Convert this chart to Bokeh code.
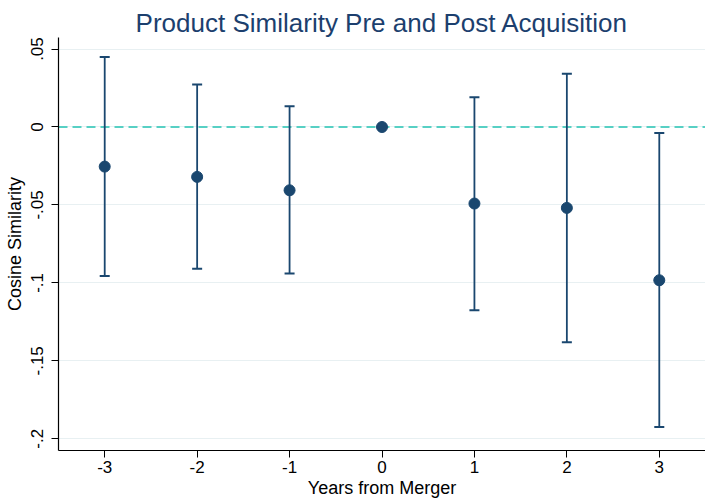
from bokeh.plotting import figure
from bokeh.models import Range1d, Span, FixedTicker, ColumnDataSource
from bokeh.embed import file_html
from bokeh.resources import INLINE

years = [-3, -2, -1, 0, 1, 2, 3]
estimate = [-0.0254, -0.0320, -0.0406, 0.0, -0.0491, -0.0519, -0.0983]
ci_upper = [0.0449, 0.0272, 0.0133, 0.0, 0.0190, 0.0342, -0.0038]
ci_lower = [-0.0955, -0.0910, -0.0940, 0.0, -0.1175, -0.1381, -0.1925]

y_ticks = [-0.2, -0.15, -0.1, -0.05, 0.0, 0.05]
y_tick_labels = ["-.2", "-.15", "-.1", "-.05", "0", ".05"]
x_ticks = [-3, -2, -1, 0, 1, 2, 3]
x_tick_labels = ["-3", "-2", "-1", "0", "1", "2", "3"]

NAVY = "#1a476f"
FONT = "Liberation Sans"

src = ColumnDataSource(dict(x=years, y=estimate, lo=ci_lower, hi=ci_upper))

p = figure(width=705, height=500, output_backend="svg", toolbar_location=None,
           x_range=Range1d(-3.5, 3.5), y_range=Range1d(-0.2075, 0.0574),
           min_border_left=58, min_border_right=0, min_border_top=37,
           min_border_bottom=50)
p.outline_line_color = None
p.background_fill_color = "white"
p.border_fill_color = "white"

p.title.text = "Product Similarity Pre and Post Acquisition"
p.title.align = "center"
p.title.text_font = FONT
p.title.text_font_style = "normal"
p.title.text_font_size = "26px"
p.title.text_color = "#1c3f6e"
p.title.standoff = 0
p.title.offset = 0

p.xgrid.grid_line_color = None
p.ygrid.grid_line_color = "#e8f0f2"
p.ygrid.grid_line_width = 1.2
p.ygrid.ticker = FixedTicker(ticks=y_ticks)

zero = Span(location=0, dimension="width", line_color="#57d0c4",
            line_width=1.8, line_dash="9 5", level="underlay")
p.add_layout(zero)

p.segment(x0="x", y0="lo", x1="x", y1="hi", source=src, line_color=NAVY, line_width=1.8)
p.dash(x="x", y="hi", source=src, size=10, line_color=NAVY, line_width=2)
p.dash(x="x", y="lo", source=src, size=10, line_color=NAVY, line_width=2)
p.scatter(x="x", y="y", source=src, size=11, fill_color=NAVY, line_color=NAVY)

p.xaxis.ticker = FixedTicker(ticks=x_ticks)
p.xaxis.major_label_overrides = {t: l for t, l in zip(x_ticks, x_tick_labels)}
p.yaxis.ticker = FixedTicker(ticks=y_ticks)
p.yaxis.major_label_overrides = {t: l for t, l in zip(y_ticks, y_tick_labels)}
p.yaxis.major_label_orientation = "vertical"

p.xaxis.axis_label = "Years from Merger"
p.yaxis.axis_label = "Cosine Similarity"

for ax in (p.xaxis, p.yaxis):
    ax.axis_line_color = "black"
    ax.axis_line_width = 1.2
    ax.major_tick_line_color = "black"
    ax.major_tick_in = 0
    ax.major_tick_out = 7
    ax.minor_tick_line_color = None
    ax.major_label_text_font = FONT
    ax.major_label_text_font_size = "17px"
    ax.major_label_text_color = "black"
    ax.axis_label_text_font = FONT
    ax.axis_label_text_font_size = "18px"
    ax.axis_label_text_font_style = "normal"
    ax.axis_label_text_color = "black"

p.xaxis.major_label_standoff = 3
p.xaxis.axis_label_standoff = 2
p.yaxis.major_label_standoff = 8
p.yaxis.axis_label_standoff = 4

open("out.html", "w").write(file_html(p, INLINE))
